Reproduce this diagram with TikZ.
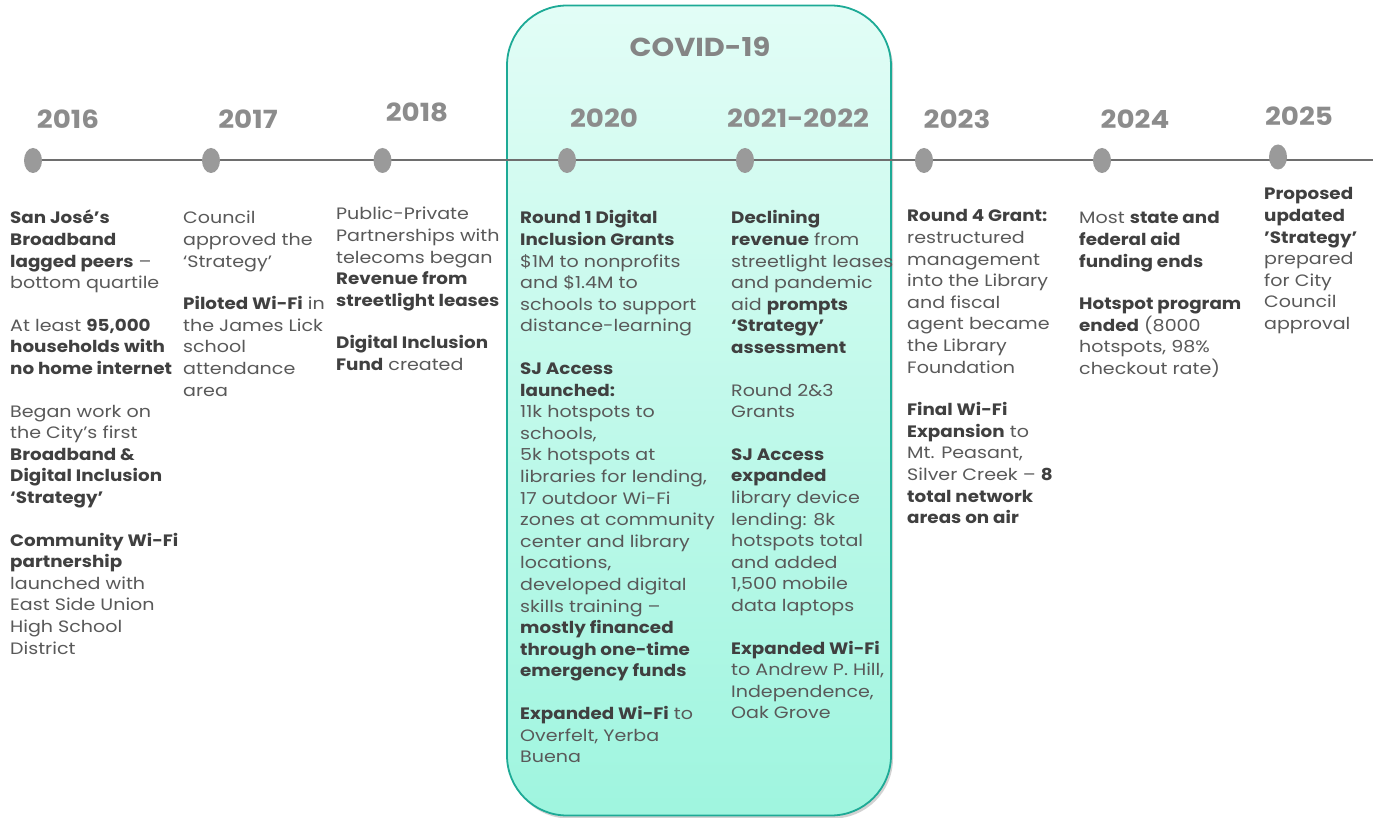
\documentclass[tikz,border=0pt]{standalone}
\usepackage{fontspec}
\setmainfont{Poppins}[FakeStretch=1.155, BoldFeatures={FakeStretch=1.11}]
\usetikzlibrary{shadows,shapes.geometric}
\definecolor{regc}{HTML}{595959}
\definecolor{boldc}{HTML}{404040}
\definecolor{yearc}{HTML}{8C8C8C}
\definecolor{linec}{HTML}{6E6E6E}
\definecolor{dotc}{HTML}{9A9A9A}
\definecolor{boxline}{HTML}{1DAA96}
\definecolor{boxtop}{HTML}{E2FDF6}
\definecolor{boxbot}{HTML}{9FF5DF}
\newcommand{\hb}[1]{\leavevmode{\bfseries\color{boldc}#1}}
\newcommand{\bodyfont}{\fontsize{16.5}{21.6}\selectfont}
\newcommand{\pg}{\\[21pt]}
\tikzset{
  yearlbl/.style={anchor=base, inner sep=0, font=\fontsize{25}{30}\selectfont\bfseries, text=yearc},
  dotmark/.style={ellipse, fill=dotc, minimum width=18pt, minimum height=25pt, inner sep=0},
  tl/.style={draw=linec, line width=2.6pt},
  col/.style={anchor=base west, inner sep=0, font=\bodyfont, text=regc},
  covidbox/.style={draw=boxline, line width=1.8pt, rounded corners=60pt, top color=boxtop, bottom color=boxbot,
     minimum width=384pt, minimum height=810pt, inner sep=0,
     drop shadow={shadow xshift=2pt, shadow yshift=-3pt, fill=black!35, opacity=0.5}}
}
\begin{document}
\begin{tikzpicture}[x=1pt,y=-1pt]
\useasboundingbox[fill=white] (0,0) rectangle (1373,818);
\node[covidbox] (covid) at (699,410.5) {};
\node[yearlbl, font=\fontsize{26}{30}\selectfont\bfseries, text=yearc!95!black] (tcovid) at (700,57) {COVID-19};

\coordinate (tlstart) at (33,160);
\coordinate (tlend) at (1373,160);
\draw[tl] (tlstart) -- (tlend);

\node[dotmark] (d2016) at (33,160.5) {};
\node[dotmark] (d2017) at (211,160.5) {};
\node[dotmark] (d2018) at (382.5,160.5) {};
\node[dotmark] (d2020) at (567,160.5) {};
\node[dotmark] (d2021) at (745,160.5) {};
\node[dotmark] (d2023) at (924,160.5) {};
\node[dotmark] (d2024) at (1102,160.5) {};
\node[dotmark] (d2025) at (1278,157) {};

\node[yearlbl] (y2016) at (68,129) {2016};
\node[yearlbl] (y2017) at (248,129) {2017};
\node[yearlbl] (y2018) at (417,122) {2018};
\node[yearlbl] (y2020) at (604,128) {2020};
\node[yearlbl] (y2021) at (798,128) {2021-2022};
\node[yearlbl] (y2023) at (957,129) {2023};
\node[yearlbl] (y2024) at (1135,129) {2024};
\node[yearlbl] (y2025) at (1299,126) {2025};

\node[col] (c1) at (10,224) {\parbox[t]{220pt}{\raggedright
\hb{San José’s}\\
\hb{Broadband}\\
\hb{lagged peers} –\\
bottom quartile\pg
At least \hb{95,000}\\
\hb{households with}\\
\hb{no home internet}\pg
Began work on\\
the City’s first\\
\hb{Broadband \&}\\
\hb{Digital Inclusion}\\
\hb{‘Strategy’}\pg
\hb{Community Wi-Fi}\\
\hb{partnership}\\
launched with\\
East Side Union\\
High School\\
District}};

\node[col] (c2) at (183,224) {\parbox[t]{220pt}{\raggedright
Council\\
approved the\\
‘Strategy’\pg
\hb{Piloted Wi-Fi} in\\
the James Lick\\
school\\
attendance\\
area}};

\node[col] (c3) at (336,220) {\parbox[t]{220pt}{\raggedright
Public-Private\\
Partnerships with\\
telecoms began\\
\hb{Revenue from}\\
\hb{streetlight leases}\pg
\hb{Digital Inclusion}\\
\hb{Fund} created}};

\node[col] (c4) at (520,224) {\parbox[t]{220pt}{\raggedright
\hb{Round 1 Digital}\\
\hb{Inclusion Grants}\\
\$1M to nonprofits\\
and \$1.4M to\\
schools to support\\
distance-learning\pg
\hb{SJ Access}\\
\hb{launched:}\\
11k hotspots to\\
schools,\\
5k hotspots at\\
libraries for lending,\\
17 outdoor Wi-Fi\\
zones at community\\
center and library\\
locations,\\
developed digital\\
skills training –\\
\hb{mostly financed}\\
\hb{through one-time}\\
\hb{emergency funds}\pg
\hb{Expanded Wi-Fi} to\\
Overfelt, Yerba\\
Buena}};

\node[col] (c5) at (731,224) {\parbox[t]{220pt}{\raggedright
\hb{Declining}\\
\hb{revenue} from\\
streetlight leases\\
and pandemic\\
aid \hb{prompts}\\
\hb{‘Strategy’}\\
\hb{assessment}\pg
Round 2\&3\\
Grants\pg
\hb{SJ Access}\\
\hb{expanded}\\
library device\\
lending: 8k\\
hotspots total\\
and added\\
1,500 mobile\\
data laptops\pg
\hb{Expanded Wi-Fi}\\
to Andrew P. Hill,\\
Independence,\\
Oak Grove}};

\node[col] (c6) at (907,222) {\parbox[t]{220pt}{\raggedright
\hb{Round 4 Grant:}\\
restructured\\
management\\
into the Library\\
and fiscal\\
agent became\\
the Library\\
Foundation\pg
\hb{Final Wi-Fi}\\
\hb{Expansion} to\\
Mt. Peasant,\\
Silver Creek – \hb{8}\\
\hb{total network}\\
\hb{areas on air}}};

\node[col] (c7) at (1079,224) {\parbox[t]{220pt}{\raggedright
Most \hb{state and}\\
\hb{federal aid}\\
\hb{funding ends}\pg
\hb{Hotspot program}\\
\hb{ended} (8000\\
hotspots, 98\%\\
checkout rate)}};

\node[col] (c8) at (1264,200) {\parbox[t]{220pt}{\raggedright
\hb{Proposed}\\
\hb{updated}\\
\hb{'Strategy'}\\
prepared\\
for City\\
Council\\
approval}};
\end{tikzpicture}
\end{document}
